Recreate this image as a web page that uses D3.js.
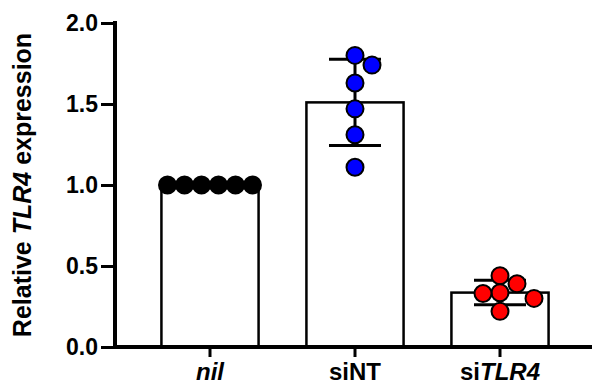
<!DOCTYPE html>
<html>
<head>
<meta charset="utf-8">
<script src="https://cdn.jsdelivr.net/npm/d3@7"></script>
<style>
  body { margin: 0; background: #fff; }
  text { font-family: "Liberation Sans", Arial, Helvetica, sans-serif; font-weight: bold; }
</style>
</head>
<body>
<div class="chart"></div>
<script>
// groups on the x axis
const groups = ["nil", "siNT", "siTLR4"];
// how each label is split into upright / italic pieces
const groupLabels = [
  [["nil", true]],
  [["siNT", false]],
  [["si", false], ["TLR4", true]],
];
// individual replicates per group
const nilValues = [1.0, 1.0, 1.0, 1.0, 1.0, 1.0];
const siNTValues = [1.8, 1.74, 1.63, 1.47, 1.31, 1.11];
const siTLR4Values = [0.44, 0.39, 0.335, 0.33, 0.3, 0.22];
const dotColors = ["#000000", "#0000ff", "#ff0000"];
const yTicks = [0, 0.5, 1.0, 1.5, 2.0];

const w = 595;
const h = 385;

const svg = d3
  .select(".chart")
  .append("svg")
  .attr("width", w)
  .attr("height", h);

const x = d3
  .scaleBand()
  .domain(groups)
  .range([137.5, 572.5])
  .paddingInner(0.33)
  .paddingOuter(0.165);

const y = d3.scaleLinear().domain([0, 2]).range([347, 23]);

const allValues = [nilValues, siNTValues, siTLR4Values];
const stats = groups.map((g, i) => {
  const vals = allValues[i];
  return {
    group: g,
    mean: d3.mean(vals),
    sd: d3.deviation(vals) || 0,
    vals: vals,
    color: dotColors[i],
  };
});

// bars
svg
  .selectAll("rect.bar")
  .data(stats)
  .enter()
  .append("rect")
  .attr("class", "bar")
  .attr("x", (d) => x(d.group))
  .attr("y", (d) => y(d.mean))
  .attr("width", x.bandwidth())
  .attr("height", (d) => y(0) - y(d.mean))
  .attr("fill", "#fff")
  .attr("stroke", "#000")
  .attr("stroke-width", 2.5);

// error bars (mean +/- SD)
const capW = 52;
const err = svg
  .selectAll("g.err")
  .data(stats.filter((d) => d.sd > 0))
  .enter()
  .append("g")
  .attr("class", "err")
  .attr("stroke", "#000")
  .attr("stroke-width", 3);

err
  .append("line")
  .attr("x1", (d) => x(d.group) + x.bandwidth() / 2)
  .attr("x2", (d) => x(d.group) + x.bandwidth() / 2)
  .attr("y1", (d) => y(d.mean + d.sd))
  .attr("y2", (d) => y(d.mean - d.sd));

err
  .selectAll("line.cap")
  .data((d) => [
    [d, d.mean + d.sd],
    [d, d.mean - d.sd],
  ])
  .enter()
  .append("line")
  .attr("class", "cap")
  .attr("x1", (d) => x(d[0].group) + x.bandwidth() / 2 - capW / 2)
  .attr("x2", (d) => x(d[0].group) + x.bandwidth() / 2 + capW / 2)
  .attr("y1", (d) => y(d[1]))
  .attr("y2", (d) => y(d[1]));

// simple beeswarm so the dots don't sit on top of each other
const r = 8.5;
const minDist = 2 * r;
function swarm(vals) {
  const placed = [];
  const order = vals.map((v, i) => i).sort((a, b) => vals[b] - vals[a]);
  order.forEach((i) => {
    const py = y(vals[i]);
    for (let k = 0; k < 40; k++) {
      const step = Math.ceil(k / 2) * (minDist / 2) * (k % 2 === 0 ? -1 : 1);
      const ok = placed.every(
        (p) => Math.hypot(p.dx - step, p.py - py) >= minDist - 0.01
      );
      if (ok) {
        placed.push({ v: vals[i], dx: step, py: py });
        break;
      }
    }
  });
  // recentre a row of equal values, leave lone dots on the centre line
  const shift = d3.median(placed, (p) => p.dx);
  placed.forEach((p) => (p.dx -= shift));
  return placed;
}

stats.forEach((s) => {
  const cx = x(s.group) + x.bandwidth() / 2;
  svg
    .append("g")
    .selectAll("circle")
    .data(swarm(s.vals))
    .enter()
    .append("circle")
    .attr("cx", (d) => cx + d.dx)
    .attr("cy", (d) => y(d.v))
    .attr("r", r)
    .attr("fill", s.color)
    .attr("stroke", "#000")
    .attr("stroke-width", 2);
});

// y axis
const yAxis = svg
  .append("g")
  .attr("transform", "translate(115,0)")
  .call(
    d3
      .axisLeft(y)
      .tickValues(yTicks)
      .tickFormat(d3.format(".1f"))
      .tickSize(14)
      .tickPadding(3)
  );
yAxis.select(".domain").attr("stroke-width", 4).attr("d", `M0,${y(2) - 2}V${y(0) + 2}`);
yAxis.selectAll(".tick line").attr("stroke-width", 3);
yAxis.selectAll(".tick text").attr("font-size", 23).attr("fill", "#000");

// x axis
const xAxis = svg
  .append("g")
  .attr("transform", `translate(0,${y(0)})`)
  .call(d3.axisBottom(x).tickSize(10).tickFormat(""));
xAxis.select(".domain").attr("stroke-width", 4).attr("d", "M113,0H592");
xAxis.selectAll(".tick line").attr("stroke-width", 3);

const xLabels = svg
  .selectAll("text.xlab")
  .data(groups)
  .enter()
  .append("text")
  .attr("class", "xlab")
  .attr("x", (d) => x(d) + x.bandwidth() / 2)
  .attr("y", 380)
  .attr("text-anchor", "middle")
  .attr("font-size", 24);

xLabels.each(function (d, i) {
  d3.select(this)
    .selectAll("tspan")
    .data(groupLabels[i])
    .enter()
    .append("tspan")
    .attr("font-style", (p) => (p[1] ? "italic" : "normal"))
    .text((p) => p[0]);
});

// y axis title
const title = svg
  .append("text")
  .attr("transform", `translate(31,${(y(0) + y(2)) / 2}) rotate(-90)`)
  .attr("text-anchor", "middle")
  .attr("font-size", 25);
title.append("tspan").text("Relative ");
title.append("tspan").attr("font-style", "italic").text("TLR4");
title.append("tspan").text(" expression");
</script>
</body>
</html>
